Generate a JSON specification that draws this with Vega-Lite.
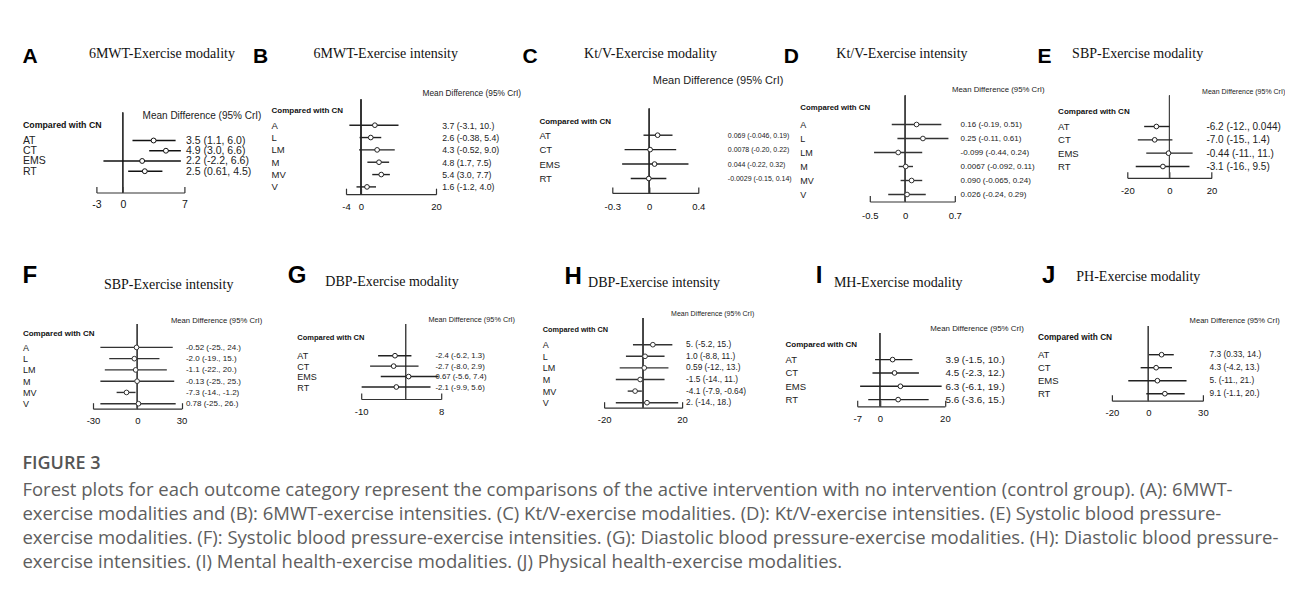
{
"$schema": "https://vega.github.io/schema/vega-lite/v6.json",
"padding": {"left": 22, "top": 44.5, "right": 0, "bottom": 0},
"config": {
 "view": {"stroke": null},
 "locale": {"number": {"decimal": ".", "thousands": ",", "grouping": [3], "currency": ["$", ""], "minus": "-"}},
 "axis": {"grid": false},
 "axisX": {"domainColor": "#333", "domainWidth": 1.2, "tickColor": "#333", "tickWidth": 1.2, "tickSize": -6, "labelFlush": false, "labelOverlap": false, "labelFont": "Liberation Sans", "labelFontSize": 9.5, "labelColor": "#111", "titleFont": "Liberation Serif", "titleFontSize": 14, "titleFontWeight": "normal", "titleColor": "#111", "titleAlign": "left", "titleBaseline": "alphabetic", "format": "~f"},
 "axisLeft": {"domain": false, "ticks": false, "tickSize": 0, "labelAlign": "left", "labelBaseline": "middle", "labelFont": "Liberation Sans", "labelColor": "#222", "titleFont": "Liberation Sans", "titleFontWeight": "bold", "titleColor": "#111", "titleAngle": 0, "titleAlign": "left", "titleBaseline": "middle"},
 "axisRight": {"domain": false, "ticks": false, "tickSize": 0, "labelAlign": "left", "labelBaseline": "middle", "labelFont": "Liberation Sans", "labelColor": "#222", "titleFont": "Liberation Sans", "titleFontWeight": "normal", "titleColor": "#222", "titleAngle": 0, "titleAlign": "left", "titleBaseline": "middle"},
 "title": {"font": "Liberation Sans", "fontWeight": "bold", "color": "#000", "anchor": "start", "frame": "group", "baseline": "alphabetic"}
},
"title": {"text": "FIGURE 3", "subtitle": ["Forest plots for each outcome category represent the comparisons of the active intervention with no intervention (control group). (A): 6MWT-", "exercise modalities and (B): 6MWT-exercise intensities. (C) Kt/V-exercise modalities. (D): Kt/V-exercise intensities. (E) Systolic blood pressure-", "exercise modalities. (F): Systolic blood pressure-exercise intensities. (G): Diastolic blood pressure-exercise modalities. (H): Diastolic blood pressure-", "exercise intensities. (I) Mental health-exercise modalities. (J) Physical health-exercise modalities."], "orient": "bottom", "anchor": "start", "frame": "bounds", "offset": 29.5, "baseline": "top", "font": "Open Sans", "fontSize": 18, "fontWeight": 600, "color": "#555", "subtitleFont": "Open Sans", "subtitleFontSize": 18.5, "subtitleColor": "#5e5e5e", "subtitleLineHeight": 24, "subtitlePadding": 8},
"spacing": 42.5,
"vconcat": [
{"spacing": -71.6, "hconcat": [
 {"width": 1, "height": 1, "data": {"values": []}, "mark": "point"},
 {"spacing": -8.4, "hconcat": [
 {"spacing": 0, "vconcat": [
  {"width": 1, "height": 1, "data": {"values": []}, "mark": "point"},
  {"width": 88, "height": 80,
  "title": {"text": "A", "dx": -74, "offset": -20.5, "fontSize": 21},
  "data": {"values": [
   {"g": "AT", "est": 3.5, "lo": 1.1, "hi": 6.0, "ci": "3.5 (1.1, 6.0)"},
   {"g": "CT", "est": 4.9, "lo": 3.0, "hi": 6.6, "ci": "4.9 (3.0, 6.6)"},
   {"g": "EMS", "est": 2.2, "lo": -2.2, "hi": 6.6, "ci": "2.2 (-2.2, 6.6)"},
   {"g": "RT", "est": 2.5, "lo": 0.61, "hi": 4.5, "ci": "2.5 (0.61, 4.5)"}]},
  "layer": [
   {"mark": {"type": "rule", "color": "#333", "strokeWidth": 1}, "encoding": {"x": {"datum": 0, "type": "quantitative", "scale": {"domain": [-3, 7], "nice": false, "zero": false}, "axis": {"values": [-3, 0, 7], "labelPadding": 13.3, "labelFontSize": 10.5, "labelFlush": false, "title": "6MWT-Exercise modality", "titleX": -8, "titleY": -134.7}}}},
   {"mark": {"type": "rule", "color": "#111", "strokeWidth": 1.5}, "encoding": {"y": {"field": "g", "type": "nominal", "sort": null, "scale": {"type": "point", "padding": 0, "range": [28, 58.7]}, "axis": {"orient": "left", "labelPadding": 74, "labelFontSize": 10.5, "title": "Compared with CN", "titleX": -74, "titleY": 12, "titleFontSize": 8.8}}, "x": {"field": "lo", "type": "quantitative"}, "x2": {"field": "hi"}}},
   {"mark": {"type": "point", "shape": "circle", "filled": true, "fill": "#fff", "stroke": "#111", "strokeWidth": 1, "size": 24, "opacity": 1}, "encoding": {"y": {"field": "g", "type": "nominal", "sort": null, "scale": {"type": "point", "padding": 0, "range": [28, 58.7]}, "axis": null}, "x": {"field": "est", "type": "quantitative"}}},
   {"mark": {"type": "point", "opacity": 0}, "encoding": {"y": {"field": "ci", "type": "nominal", "sort": null, "scale": {"type": "point", "padding": 0, "range": [28, 58.7]}, "axis": {"orient": "right", "labelPadding": 1, "labelFontSize": 10.5, "title": "Mean Difference (95% CrI)", "titleX": -42.3, "titleY": 3, "titleFontSize": 10}}}}
  ],
  "resolve": {"scale": {"y": "independent"}, "axis": {"y": "independent"}}}]},
 {"spacing": 1.3, "hconcat": [
  {"spacing": 0, "vconcat": [
   {"width": 1, "height": 1, "data": {"values": []}, "mark": "point"},
   {"width": 90, "height": 94.7,
   "title": {"text": "B", "dx": -93, "offset": -20.5, "fontSize": 21},
   "data": {"values": [
    {"g": "A", "est": 3.7, "lo": -3.1, "hi": 10, "ci": "3.7 (-3.1, 10.)"},
    {"g": "L", "est": 2.6, "lo": -0.38, "hi": 5.4, "ci": "2.6 (-0.38, 5.4)"},
    {"g": "LM", "est": 4.3, "lo": -0.52, "hi": 9.0, "ci": "4.3 (-0.52, 9.0)"},
    {"g": "M", "est": 4.8, "lo": 1.7, "hi": 7.5, "ci": "4.8 (1.7, 7.5)"},
    {"g": "MV", "est": 5.4, "lo": 3.0, "hi": 7.7, "ci": "5.4 (3.0, 7.7)"},
    {"g": "V", "est": 1.6, "lo": -1.2, "hi": 4.0, "ci": "1.6 (-1.2, 4.0)"}]},
   "layer": [
    {"mark": {"type": "rule", "color": "#333", "strokeWidth": 1}, "encoding": {"x": {"datum": 0, "type": "quantitative", "scale": {"domain": [-4, 20], "nice": false, "zero": false}, "axis": {"values": [-4, 0, 20], "labelPadding": 13.7, "labelFlush": false, "title": "6MWT-Exercise intensity", "titleX": -33, "titleY": -137}}}},
    {"mark": {"type": "rule", "color": "#222", "strokeWidth": 1.4}, "encoding": {"y": {"field": "g", "type": "nominal", "sort": null, "scale": {"type": "point", "padding": 0, "range": [25.7, 87.4]}, "axis": {"orient": "left", "labelPadding": 75, "labelFontSize": 9.5, "title": "Compared with CN", "titleX": -75, "titleY": 10.7, "titleFontSize": 8}}, "x": {"field": "lo", "type": "quantitative"}, "x2": {"field": "hi"}}},
    {"mark": {"type": "point", "shape": "circle", "filled": true, "fill": "#fff", "stroke": "#222", "strokeWidth": 1, "size": 22, "opacity": 1}, "encoding": {"y": {"field": "g", "type": "nominal", "sort": null, "scale": {"type": "point", "padding": 0, "range": [25.7, 87.4]}, "axis": null}, "x": {"field": "est", "type": "quantitative"}}},
    {"mark": {"type": "point", "opacity": 0}, "encoding": {"y": {"field": "ci", "type": "nominal", "sort": null, "scale": {"type": "point", "padding": 0, "range": [25.7, 87.4]}, "axis": {"orient": "right", "labelPadding": 5.7, "labelFontSize": 8.7, "title": "Mean Difference (95% CrI)", "titleX": -14, "titleY": -6, "titleFontSize": 8.3}}}}
   ],
   "resolve": {"scale": {"y": "independent"}, "axis": {"y": "independent"}}}]},
  {"spacing": -7.5, "hconcat": [
   {"spacing": 0, "vconcat": [
    {"width": 1, "height": 1, "data": {"values": []}, "mark": "point"},
    {"width": 86, "height": 84.4,
    "title": {"text": "C", "dx": -89.7, "offset": -20.5, "fontSize": 21},
    "data": {"values": [
     {"g": "AT", "est": 0.069, "lo": -0.046, "hi": 0.19, "ci": "0.069 (-0.046, 0.19)"},
     {"g": "CT", "est": 0.0078, "lo": -0.20, "hi": 0.22, "ci": "0.0078 (-0.20, 0.22)"},
     {"g": "EMS", "est": 0.044, "lo": -0.22, "hi": 0.32, "ci": "0.044 (-0.22, 0.32)"},
     {"g": "RT", "est": -0.0029, "lo": -0.15, "hi": 0.14, "ci": "-0.0029 (-0.15, 0.14)"}]},
    "layer": [
     {"mark": {"type": "rule", "color": "#333", "strokeWidth": 1}, "encoding": {"x": {"datum": 0, "type": "quantitative", "scale": {"domain": [-0.3, 0.4], "nice": false, "zero": false}, "axis": {"values": [-0.3, 0, 0.4], "labelPadding": 15, "labelFlush": false, "title": "Kt/V-Exercise modality", "titleX": -28.7, "titleY": -135.7}}}},
     {"mark": {"type": "rule", "color": "#222", "strokeWidth": 1.4}, "encoding": {"y": {"field": "g", "type": "nominal", "sort": null, "scale": {"type": "point", "padding": 0, "range": [26.7, 70]}, "axis": {"orient": "left", "labelPadding": 73.4, "labelFontSize": 9.5, "title": "Compared with CN", "titleX": -73.4, "titleY": 13.4, "titleFontSize": 8}}, "x": {"field": "lo", "type": "quantitative"}, "x2": {"field": "hi"}}},
     {"mark": {"type": "point", "shape": "circle", "filled": true, "fill": "#fff", "stroke": "#222", "strokeWidth": 1, "size": 22, "opacity": 1}, "encoding": {"y": {"field": "g", "type": "nominal", "sort": null, "scale": {"type": "point", "padding": 0, "range": [26.7, 70]}, "axis": null}, "x": {"field": "est", "type": "quantitative"}}},
     {"mark": {"type": "point", "opacity": 0}, "encoding": {"y": {"field": "ci", "type": "nominal", "sort": null, "scale": {"type": "point", "padding": 0, "range": [26.7, 70]}, "axis": {"orient": "right", "labelPadding": 29, "labelFontSize": 7, "title": "Mean Difference (95% CrI)", "titleX": -46, "titleY": -28.3, "titleFontSize": 11}}}}
    ],
    "resolve": {"scale": {"y": "independent"}, "axis": {"y": "independent"}}}]},
   {"spacing": -7.5, "hconcat": [
    {"spacing": 0, "vconcat": [
     {"width": 1, "height": 1, "data": {"values": []}, "mark": "point"},
     {"width": 85, "height": 106,
     "title": {"text": "D", "dx": -86, "offset": -20.5, "fontSize": 21},
     "data": {"values": [
      {"g": "A", "est": 0.16, "lo": -0.19, "hi": 0.51, "ci": "0.16 (-0.19, 0.51)"},
      {"g": "L", "est": 0.25, "lo": -0.11, "hi": 0.61, "ci": "0.25 (-0.11, 0.61)"},
      {"g": "LM", "est": -0.099, "lo": -0.44, "hi": 0.24, "ci": "-0.099 (-0.44, 0.24)"},
      {"g": "M", "est": 0.0067, "lo": -0.092, "hi": 0.11, "ci": "0.0067 (-0.092, 0.11)"},
      {"g": "MV", "est": 0.090, "lo": -0.065, "hi": 0.24, "ci": "0.090 (-0.065, 0.24)"},
      {"g": "V", "est": 0.026, "lo": -0.24, "hi": 0.29, "ci": "0.026 (-0.24, 0.29)"}]},
     "layer": [
      {"mark": {"type": "rule", "color": "#444", "strokeWidth": 1}, "encoding": {"x": {"datum": 0, "type": "quantitative", "scale": {"domain": [-0.5, 0.7], "nice": false, "zero": false}, "axis": {"values": [-0.5, 0, 0.7], "labelPadding": 15, "labelFlush": false, "title": "Kt/V-Exercise intensity", "titleX": -34, "titleY": -144}}}},
      {"mark": {"type": "rule", "color": "#333", "strokeWidth": 1.4}, "encoding": {"y": {"field": "g", "type": "nominal", "sort": null, "scale": {"type": "point", "padding": 0, "range": [29, 99]}, "axis": {"orient": "left", "labelPadding": 70, "labelFontSize": 9, "title": "Compared with CN", "titleX": -70, "titleY": 12.3, "titleFontSize": 7.8}}, "x": {"field": "lo", "type": "quantitative"}, "x2": {"field": "hi"}}},
      {"mark": {"type": "point", "shape": "circle", "filled": true, "fill": "#fff", "stroke": "#333", "strokeWidth": 1, "size": 22, "opacity": 1}, "encoding": {"y": {"field": "g", "type": "nominal", "sort": null, "scale": {"type": "point", "padding": 0, "range": [29, 99]}, "axis": null}, "x": {"field": "est", "type": "quantitative"}}},
      {"mark": {"type": "point", "opacity": 0}, "encoding": {"y": {"field": "ci", "type": "nominal", "sort": null, "scale": {"type": "point", "padding": 0, "range": [29, 99]}, "axis": {"orient": "right", "labelPadding": 5.3, "labelFontSize": 8, "title": "Mean Difference (95% CrI)", "titleX": -3.3, "titleY": -5.7, "titleFontSize": 7.8}}}}
     ],
     "resolve": {"scale": {"y": "independent"}, "axis": {"y": "independent"}}}]},
    {"spacing": 0, "vconcat": [
     {"width": 1, "height": 1, "data": {"values": []}, "mark": "point"},
     {"width": 84.3, "height": 82.3,
     "title": {"text": "E", "dx": -89.7, "offset": -20.5, "fontSize": 21},
     "data": {"values": [
      {"g": "AT", "est": -6.2, "lo": -12, "hi": 0.044, "ci": "-6.2 (-12., 0.044)"},
      {"g": "CT", "est": -7.0, "lo": -15, "hi": 1.4, "ci": "-7.0 (-15., 1.4)"},
      {"g": "EMS", "est": -0.44, "lo": -11, "hi": 11, "ci": "-0.44 (-11., 11.)"},
      {"g": "RT", "est": -3.1, "lo": -16, "hi": 9.5, "ci": "-3.1 (-16., 9.5)"}]},
     "layer": [
      {"mark": {"type": "rule", "color": "#444", "strokeWidth": 1}, "encoding": {"x": {"datum": 0, "type": "quantitative", "scale": {"domain": [-20, 20], "nice": false, "zero": false}, "axis": {"values": [-20, 0, 20], "labelPadding": 13.7, "labelFlush": false, "title": "SBP-Exercise modality", "titleX": -55.7, "titleY": -120.3}}}},
      {"mark": {"type": "rule", "color": "#222", "strokeWidth": 1.4}, "encoding": {"y": {"field": "g", "type": "nominal", "sort": null, "scale": {"type": "point", "padding": 0, "range": [31, 71]}, "axis": {"orient": "left", "labelPadding": 69.7, "labelFontSize": 9.5, "title": "Compared with CN", "titleX": -69.7, "titleY": 16, "titleFontSize": 8}}, "x": {"field": "lo", "type": "quantitative"}, "x2": {"field": "hi"}}},
      {"mark": {"type": "point", "shape": "circle", "filled": true, "fill": "#fff", "stroke": "#222", "strokeWidth": 1, "size": 22, "opacity": 1}, "encoding": {"y": {"field": "g", "type": "nominal", "sort": null, "scale": {"type": "point", "padding": 0, "range": [31, 71]}, "axis": null}, "x": {"field": "est", "type": "quantitative"}}},
      {"mark": {"type": "point", "opacity": 0}, "encoding": {"y": {"field": "ci", "type": "nominal", "sort": null, "scale": {"type": "point", "padding": 0, "range": [31, 71]}, "axis": {"orient": "right", "labelPadding": -5.7, "labelFontSize": 10, "title": "Mean Difference (95% CrI)", "titleX": -10, "titleY": -4.3, "titleFontSize": 7}}}}
     ],
     "resolve": {"scale": {"y": "independent"}, "axis": {"y": "independent"}}}]}
   ]}
  ]}
 ]}
 ]}
]},
{"spacing": 25.2, "hconcat": [
 {"spacing": 0, "vconcat": [
  {"width": 1, "height": 1, "data": {"values": []}, "mark": "point"},
  {"width": 88.6, "height": 84.7,
  "title": {"text": "F", "dx": -70.6, "offset": -10.8, "fontSize": 24},
  "data": {"values": [
   {"g": "A", "est": -0.52, "lo": -25, "hi": 24, "ci": "-0.52 (-25., 24.)"},
   {"g": "L", "est": -2.0, "lo": -19, "hi": 15, "ci": "-2.0 (-19., 15.)"},
   {"g": "LM", "est": -1.1, "lo": -22, "hi": 20, "ci": "-1.1 (-22., 20.)"},
   {"g": "M", "est": -0.13, "lo": -25, "hi": 25, "ci": "-0.13 (-25., 25.)"},
   {"g": "MV", "est": -7.3, "lo": -14, "hi": -1.2, "ci": "-7.3 (-14., -1.2)"},
   {"g": "V", "est": 0.78, "lo": -25, "hi": 26, "ci": "0.78 (-25., 26.)"}]},
  "layer": [
   {"mark": {"type": "rule", "color": "#444", "strokeWidth": 1}, "encoding": {"x": {"datum": 0, "type": "quantitative", "scale": {"domain": [-30, 30], "nice": false, "zero": false}, "axis": {"values": [-30, 0, 30], "labelPadding": 13, "labelFlush": false, "title": "SBP-Exercise intensity", "titleX": 10.4, "titleY": -120.5}}}},
   {"mark": {"type": "rule", "color": "#333", "strokeWidth": 1.4}, "encoding": {"y": {"field": "g", "type": "nominal", "sort": null, "scale": {"type": "point", "padding": 0, "range": [23.4, 79.7]}, "axis": {"orient": "left", "labelPadding": 70.6, "labelFontSize": 9, "title": "Compared with CN", "titleX": -70.6, "titleY": 9.7, "titleFontSize": 8}}, "x": {"field": "lo", "type": "quantitative"}, "x2": {"field": "hi"}}},
   {"mark": {"type": "point", "shape": "circle", "filled": true, "fill": "#fff", "stroke": "#333", "strokeWidth": 1, "size": 22, "opacity": 1}, "encoding": {"y": {"field": "g", "type": "nominal", "sort": null, "scale": {"type": "point", "padding": 0, "range": [23.4, 79.7]}, "axis": null}, "x": {"field": "est", "type": "quantitative"}}},
   {"mark": {"type": "point", "opacity": 0}, "encoding": {"y": {"field": "ci", "type": "nominal", "sort": null, "scale": {"type": "point", "padding": 0, "range": [23.4, 79.7]}, "axis": {"orient": "right", "labelPadding": 3.8, "labelFontSize": 8, "title": "Mean Difference (95% CrI)", "titleX": -11.2, "titleY": -3.3, "titleFontSize": 7.7}}}}
  ],
  "resolve": {"scale": {"y": "independent"}, "axis": {"y": "independent"}}}]},
 {"spacing": 26.9, "hconcat": [
  {"spacing": 0, "vconcat": [
   {"width": 1, "height": 1, "data": {"values": []}, "mark": "point"},
   {"width": 80, "height": 75,
   "title": {"text": "G", "dx": -73.4, "offset": -14.4, "fontSize": 24},
   "data": {"values": [
    {"g": "AT", "est": -2.4, "lo": -6.2, "hi": 1.3, "ci": "-2.4 (-6.2, 1.3)"},
    {"g": "CT", "est": -2.7, "lo": -8.0, "hi": 2.9, "ci": "-2.7 (-8.0, 2.9)"},
    {"g": "EMS", "est": 0.67, "lo": -5.6, "hi": 7.4, "ci": "0.67 (-5.6, 7.4)"},
    {"g": "RT", "est": -2.1, "lo": -9.9, "hi": 5.6, "ci": "-2.1 (-9.9, 5.6)"}]},
   "layer": [
    {"mark": {"type": "rule", "color": "#444", "strokeWidth": 1}, "encoding": {"x": {"datum": 0, "type": "quantitative", "scale": {"domain": [-10, 8], "nice": false, "zero": false}, "axis": {"values": [-10, 0, 8], "labelPadding": 13, "labelFlush": false, "title": "DBP-Exercise modality", "titleX": -36.4, "titleY": -114}}}},
    {"mark": {"type": "rule", "color": "#222", "strokeWidth": 1.4}, "encoding": {"y": {"field": "g", "type": "nominal", "sort": null, "scale": {"type": "point", "padding": 0, "range": [31.7, 63]}, "axis": {"orient": "left", "labelPadding": 64.4, "labelFontSize": 9, "title": "Compared with CN", "titleX": -64.4, "titleY": 13, "titleFontSize": 7.5}}, "x": {"field": "lo", "type": "quantitative"}, "x2": {"field": "hi"}}},
    {"mark": {"type": "point", "shape": "circle", "filled": true, "fill": "#fff", "stroke": "#222", "strokeWidth": 1, "size": 22, "opacity": 1}, "encoding": {"y": {"field": "g", "type": "nominal", "sort": null, "scale": {"type": "point", "padding": 0, "range": [31.7, 63]}, "axis": null}, "x": {"field": "est", "type": "quantitative"}}},
    {"mark": {"type": "point", "opacity": 0}, "encoding": {"y": {"field": "ci", "type": "nominal", "sort": null, "scale": {"type": "point", "padding": 0, "range": [31.7, 63]}, "axis": {"orient": "right", "labelPadding": -6.3, "labelFontSize": 7.8, "title": "Mean Difference (95% CrI)", "titleX": -13.3, "titleY": -5, "titleFontSize": 7.3}}}}
   ],
   "resolve": {"scale": {"y": "independent"}, "axis": {"y": "independent"}}}]},
  {"spacing": 30.1, "hconcat": [
   {"spacing": 0, "vconcat": [
    {"width": 1, "height": 1, "data": {"values": []}, "mark": "point"},
    {"width": 78, "height": 89.7,
    "title": {"text": "H", "dx": -39.5, "offset": -13.4, "fontSize": 24},
    "data": {"values": [
     {"g": "A", "est": 5, "lo": -5.2, "hi": 15, "ci": "5. (-5.2, 15.)"},
     {"g": "L", "est": 1.0, "lo": -8.8, "hi": 11, "ci": "1.0 (-8.8, 11.)"},
     {"g": "LM", "est": 0.59, "lo": -12, "hi": 13, "ci": "0.59 (-12., 13.)"},
     {"g": "M", "est": -1.5, "lo": -14, "hi": 11, "ci": "-1.5 (-14., 11.)"},
     {"g": "MV", "est": -4.1, "lo": -7.9, "hi": -0.64, "ci": "-4.1 (-7.9, -0.64)"},
     {"g": "V", "est": 2, "lo": -14, "hi": 18, "ci": "2. (-14., 18.)"}]},
    "layer": [
     {"mark": {"type": "rule", "color": "#444", "strokeWidth": 1}, "encoding": {"x": {"datum": 0, "type": "quantitative", "scale": {"domain": [-20, 20], "nice": false, "zero": false}, "axis": {"values": [-20, 0, 20], "labelPadding": 13, "labelFlush": false, "title": "DBP-Exercise intensity", "titleX": -16.5, "titleY": -121.5}}}},
     {"mark": {"type": "rule", "color": "#333", "strokeWidth": 1.4}, "encoding": {"y": {"field": "g", "type": "nominal", "sort": null, "scale": {"type": "point", "padding": 0, "range": [26.7, 84.7]}, "axis": {"orient": "left", "labelPadding": 61.8, "labelFontSize": 9, "title": "Compared with CN", "titleX": -61.8, "titleY": 11.7, "titleFontSize": 7.3}}, "x": {"field": "lo", "type": "quantitative"}, "x2": {"field": "hi"}}},
     {"mark": {"type": "point", "shape": "circle", "filled": true, "fill": "#fff", "stroke": "#333", "strokeWidth": 1, "size": 22, "opacity": 1}, "encoding": {"y": {"field": "g", "type": "nominal", "sort": null, "scale": {"type": "point", "padding": 0, "range": [26.7, 84.7]}, "axis": null}, "x": {"field": "est", "type": "quantitative"}}},
     {"mark": {"type": "point", "opacity": 0}, "encoding": {"y": {"field": "ci", "type": "nominal", "sort": null, "scale": {"type": "point", "padding": 0, "range": [26.7, 84.7]}, "axis": {"orient": "right", "labelPadding": 3.5, "labelFontSize": 8.3, "title": "Mean Difference (95% CrI)", "titleX": -11.5, "titleY": -5, "titleFontSize": 7}}}}
    ],
    "resolve": {"scale": {"y": "independent"}, "axis": {"y": "independent"}}}]},
   {"spacing": 12.7, "hconcat": [
    {"spacing": 0, "vconcat": [
     {"width": 1, "height": 1, "data": {"values": []}, "mark": "point"},
     {"width": 87.7, "height": 73.3,
     "title": {"text": "I", "dx": -41.5, "offset": -12.8, "fontSize": 24},
     "data": {"values": [
      {"g": "AT", "est": 3.9, "lo": -1.5, "hi": 10, "ci": "3.9 (-1.5, 10.)"},
      {"g": "CT", "est": 4.5, "lo": -2.3, "hi": 12, "ci": "4.5 (-2.3, 12.)"},
      {"g": "EMS", "est": 6.3, "lo": -6.1, "hi": 19, "ci": "6.3 (-6.1, 19.)"},
      {"g": "RT", "est": 5.6, "lo": -3.6, "hi": 15, "ci": "5.6 (-3.6, 15.)"}]},
     "layer": [
      {"mark": {"type": "rule", "color": "#444", "strokeWidth": 1}, "encoding": {"x": {"datum": 0, "type": "quantitative", "scale": {"domain": [-7, 20], "nice": false, "zero": false}, "axis": {"values": [-7, 0, 20], "labelPadding": 13, "labelFlush": false, "title": "MH-Exercise modality", "titleX": -23.8, "titleY": -120}}}},
      {"mark": {"type": "rule", "color": "#222", "strokeWidth": 1.4}, "encoding": {"y": {"field": "g", "type": "nominal", "sort": null, "scale": {"type": "point", "padding": 0, "range": [26.6, 66.6]}, "axis": {"orient": "left", "labelPadding": 72.2, "labelFontSize": 9.5, "title": "Compared with CN", "titleX": -72.2, "titleY": 11.6, "titleFontSize": 8}}, "x": {"field": "lo", "type": "quantitative"}, "x2": {"field": "hi"}}},
      {"mark": {"type": "point", "shape": "circle", "filled": true, "fill": "#fff", "stroke": "#222", "strokeWidth": 1, "size": 22, "opacity": 1}, "encoding": {"y": {"field": "g", "type": "nominal", "sort": null, "scale": {"type": "point", "padding": 0, "range": [26.6, 66.6]}, "axis": null}, "x": {"field": "est", "type": "quantitative"}}},
      {"mark": {"type": "point", "opacity": 0}, "encoding": {"y": {"field": "ci", "type": "nominal", "sort": null, "scale": {"type": "point", "padding": 0, "range": [26.6, 66.6]}, "axis": {"orient": "right", "labelPadding": 0, "labelFontSize": 9.9, "title": "Mean Difference (95% CrI)", "titleX": -15.2, "titleY": -5, "titleFontSize": 7.9}}}}
     ],
     "resolve": {"scale": {"y": "independent"}, "axis": {"y": "independent"}}}]},
    {"spacing": 0, "vconcat": [
     {"width": 1, "height": 1, "data": {"values": []}, "mark": "point"},
     {"width": 91, "height": 74.7,
     "title": {"text": "J", "dx": -69.8, "offset": -19, "fontSize": 24},
     "data": {"values": [
      {"g": "AT", "est": 7.3, "lo": 0.33, "hi": 14, "ci": "7.3 (0.33, 14.)"},
      {"g": "CT", "est": 4.3, "lo": -4.2, "hi": 13, "ci": "4.3 (-4.2, 13.)"},
      {"g": "EMS", "est": 5, "lo": -11, "hi": 21, "ci": "5. (-11., 21.)"},
      {"g": "RT", "est": 9.1, "lo": -1.1, "hi": 20, "ci": "9.1 (-1.1, 20.)"}]},
     "layer": [
      {"mark": {"type": "rule", "color": "#444", "strokeWidth": 1}, "encoding": {"x": {"datum": 0, "type": "quantitative", "scale": {"domain": [-20, 30], "nice": false, "zero": false}, "axis": {"values": [-20, 0, 30], "labelPadding": 13, "labelFlush": false, "title": "PH-Exercise modality", "titleX": -36.1, "titleY": -120.3}}}},
      {"mark": {"type": "rule", "color": "#222", "strokeWidth": 1.4}, "encoding": {"y": {"field": "g", "type": "nominal", "sort": null, "scale": {"type": "point", "padding": 0, "range": [28.7, 67.7]}, "axis": {"orient": "left", "labelPadding": 74.5, "labelFontSize": 9.5, "title": "Compared with CN", "titleX": -74.5, "titleY": 11, "titleFontSize": 8.3}}, "x": {"field": "lo", "type": "quantitative"}, "x2": {"field": "hi"}}},
      {"mark": {"type": "point", "shape": "circle", "filled": true, "fill": "#fff", "stroke": "#222", "strokeWidth": 1, "size": 22, "opacity": 1}, "encoding": {"y": {"field": "g", "type": "nominal", "sort": null, "scale": {"type": "point", "padding": 0, "range": [28.7, 67.7]}, "axis": null}, "x": {"field": "est", "type": "quantitative"}}},
      {"mark": {"type": "point", "opacity": 0}, "encoding": {"y": {"field": "ci", "type": "nominal", "sort": null, "scale": {"type": "point", "padding": 0, "range": [28.7, 67.7]}, "axis": {"orient": "right", "labelPadding": 6.2, "labelFontSize": 8.3, "title": "Mean Difference (95% CrI)", "titleX": -13.8, "titleY": -5.6, "titleFontSize": 7.6}}}}
     ],
     "resolve": {"scale": {"y": "independent"}, "axis": {"y": "independent"}}}]}
   ]}
  ]}
 ]}
]}
]
}
